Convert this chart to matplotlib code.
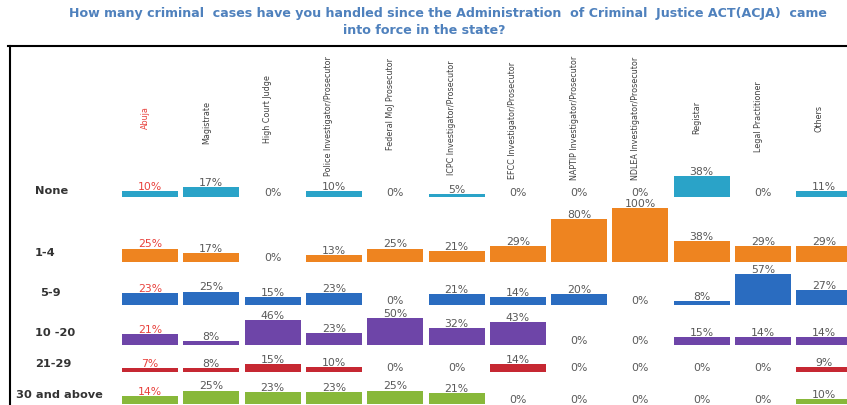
import matplotlib
matplotlib.use("Agg")
import matplotlib.pyplot as plt
from matplotlib.lines import Line2D

# ---------------- data ----------------
title_line1 = "How many criminal  cases have you handled since the Administration  of Criminal  Justice ACT(ACJA)  came"
title_line2 = "into force in the state?"

categories = ["Abuja", "Magistrate", "High Court Judge", "Police Investigator/Prosecutor",
              "Federal MoJ Prosecutor", "ICPC Investigator/Prosecutor", "EFCC Investigator/Prosecutor",
              "NAPTIP Investigator/Prosecutor", "NDLEA Investigator/Prosecutor", "Registar",
              "Legal Practitioner", "Others"]

row_labels = ["None", "1-4", "5-9", "10 -20", "21-29", "30 and above"]

none_vals = [10, 17, 0, 10, 0, 5, 0, 0, 0, 38, 0, 11]
r1_4_vals = [25, 17, 0, 13, 25, 21, 29, 80, 100, 38, 29, 29]
r5_9_vals = [23, 25, 15, 23, 0, 21, 14, 20, 0, 8, 57, 27]
r10_20_vals = [21, 8, 46, 23, 50, 32, 43, 0, 0, 15, 14, 14]
r21_29_vals = [7, 8, 15, 10, 0, 0, 14, 0, 0, 0, 0, 9]
r30_vals = [14, 25, 23, 23, 25, 21, 0, 0, 0, 0, 0, 10]

rows = [none_vals, r1_4_vals, r5_9_vals, r10_20_vals, r21_29_vals, r30_vals]

# ---------------- styling / layout ----------------
W, H = 847, 406
row_colors = ["#2AA3C8", "#EE8420", "#2A6CC0", "#6E45A8", "#C62832", "#88B83A"]
title_color = "#4F81BD"
label_color = "#595959"
highlight_color = "#E8413C"

col0_px, pitch_px = 150.0, 61.3
px_per_pct = 0.54
baseline_px = [197.5, 263, 306, 346, 373, 405]
rowlabel_px = [(35, 191), (35, 253), (40, 293), (35, 333), (35, 364), (16, 395)]
header_center_px = [118, 122, 109, 116, 104, 118, 120, 118, 118, 117, 117, 119]


def xd(px):
    return (px - col0_px) / pitch_px


def yd(py):
    return (H - py) / px_per_pct


fig = plt.figure(figsize=(W / 100, H / 100), dpi=100)
ax = fig.add_axes([0, 0, 1, 1])
ax.set_xlim(xd(0), xd(W))
ax.set_ylim(yd(H), yd(0))
ax.axis("off")

xs = list(range(len(categories)))

for r, vals in enumerate(rows):
    base = yd(baseline_px[r])
    ax.bar(xs, vals, width=56 / pitch_px, bottom=base, color=row_colors[r],
           edgecolor="none", zorder=2)
    for i, v in enumerate(vals):
        c = highlight_color if i == 0 else label_color
        ax.annotate(f"{v}%", (i, base + v), xytext=(0, 5), textcoords="offset pixels",
                    ha="center", va="center", fontsize=7.8, color=c, zorder=3)
    lx, ly = rowlabel_px[r]
    ax.text(xd(lx), yd(ly), row_labels[r], ha="left", va="center", fontsize=8.2,
            fontweight="bold", color="#333333")

for i, cat in enumerate(categories):
    c = highlight_color if i == 0 else "#404040"
    ax.text(i - 0.08, yd(header_center_px[i]), cat, rotation=90, ha="center", va="center",
            fontsize=5.8, color=c)

fig.text(448 / W, 1 - 14 / H, title_line1, ha="center", va="center", fontsize=9.1,
         fontweight="bold", color=title_color)
fig.text(424 / W, 1 - 31 / H, title_line2, ha="center", va="center", fontsize=9.1,
         fontweight="bold", color=title_color)

# frame lines
fig.add_artist(Line2D([8 / W, 1], [1 - 46.5 / H, 1 - 46.5 / H], color="black", lw=1.5,
                      transform=fig.transFigure))
fig.add_artist(Line2D([10 / W, 10 / W], [1 - 46.5 / H, 0], color="black", lw=1.5,
                      transform=fig.transFigure))

fig.savefig("out.png", dpi=100)
